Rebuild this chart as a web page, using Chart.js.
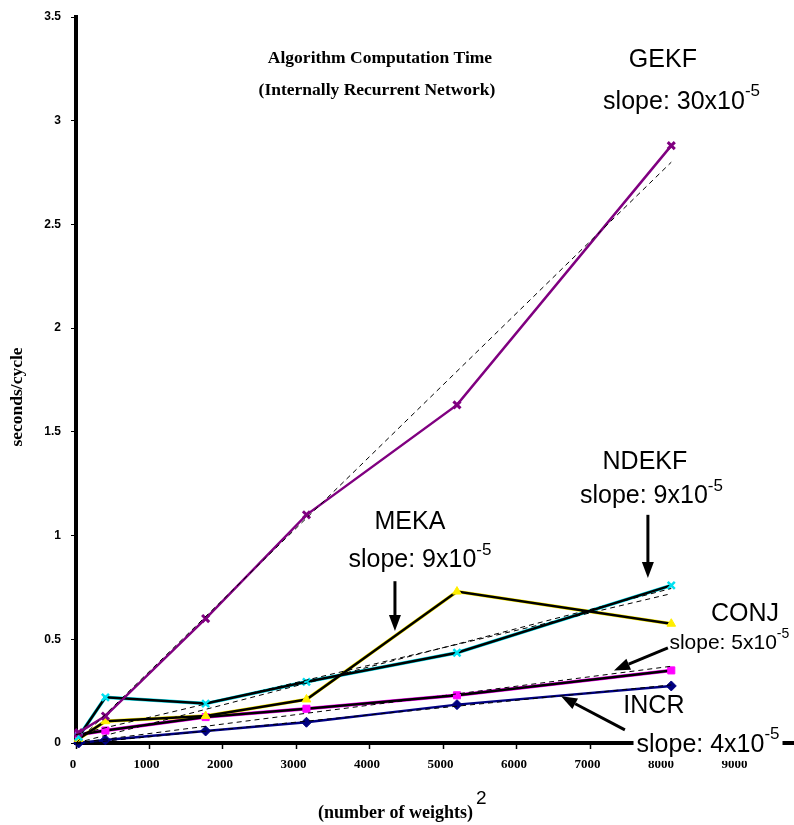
<!DOCTYPE html>
<html>
<head>
<meta charset="utf-8">
<script src="https://cdn.jsdelivr.net/npm/chart.js@4.4.1/dist/chart.umd.min.js"></script>
<style>
  html, body { margin: 0; padding: 0; background: #fff; }
  #wrap { width: 794px; height: 825px; }
</style>
</head>
<body>
<div id="wrap"><canvas id="myChart" width="794" height="825"></canvas></div>
<script>
// (number of weights)^2
var xWeights = [36, 400, 1764, 3136, 5184, 8100];
var xTicks = [0, 1000, 2000, 3000, 4000, 5000, 6000, 7000, 8000, 9000];

// seconds per cycle
var gekf  = [0.05, 0.13, 0.60, 1.10, 1.63, 2.88];
var ndekf = [0.03, 0.22, 0.19, 0.295, 0.435, 0.76];
var meka  = [0.02, 0.105, 0.13, 0.21, 0.73, 0.575];
var conj  = [0.04, 0.06, 0.125, 0.165, 0.23, 0.35];
var incr  = [0.00, 0.015, 0.058, 0.10, 0.185, 0.275];

// dashed linear fits (ends at x = 0 and x = 8100)
var fitX     = [0, 8100];
var gekfFit  = [0.0, 2.8];
var ndekfFit = [0.04, 0.72];
var mekaFit  = [0.0, 0.745];
var conjFit  = [0.0, 0.37];
var incrFit  = [-0.005, 0.28];

function pts(xs, ys) {
    return xs.map(function(x, i) { return { x: x, y: ys[i] }; });
}

function fitSet(ys) {
    return {
        data: pts(fitX, ys),
        borderColor: '#000',
        borderWidth: 1,
        borderDash: [5, 4],
        pointRadius: 0,
        order: 0
    };
}

var serif = '"Liberation Serif", "Times New Roman", serif';
var sans = '"Liberation Sans", Arial, sans-serif';

// labels, arrows and titles
var notes = {
    id: 'notes',
    afterDraw: function(chart) {
        var ctx = chart.ctx;
        var xs = chart.scales.x, ys = chart.scales.y;
        var px = function(v) { return xs.getPixelForValue(v); };
        var py = function(v) { return ys.getPixelForValue(v); };

        ctx.save();
        ctx.fillStyle = '#000';
        ctx.textBaseline = 'middle';
        ctx.textAlign = 'center';

        ctx.font = 'bold 17.5px ' + serif;
        ctx.fillText('Algorithm Computation Time', 380, 58);
        ctx.fillText('(Internally Recurrent Network)', 377, 90);

        // y title
        ctx.save();
        ctx.translate(17, 397);
        ctx.rotate(-Math.PI / 2);
        ctx.font = 'bold 17.5px ' + serif;
        ctx.fillText('seconds/cycle', 0, 0);
        ctx.restore();

        // x title
        ctx.font = 'bold 18px ' + serif;
        var t = '(number of weights)';
        var tw = ctx.measureText(t).width;
        ctx.textAlign = 'left';
        ctx.fillText(t, 318, 813);
        ctx.font = '19px ' + sans;
        ctx.fillText('2', 318 + tw + 3, 799);
        ctx.textAlign = 'center';

        function label(txt, x, y, size) {
            ctx.font = size + 'px ' + sans;
            ctx.textAlign = 'center';
            ctx.fillText(txt, px(x), py(y));
        }

        function slope(txt, x, y, size, white) {
            var ss = Math.round(size * 0.68);
            ctx.font = size + 'px ' + sans;
            var w1 = ctx.measureText(txt).width;
            ctx.font = ss + 'px ' + sans;
            var w2 = ctx.measureText('-5').width;
            var x0 = px(x) - (w1 + w2) / 2, yc = py(y);
            if (white) {
                ctx.fillStyle = '#fff';
                ctx.fillRect(x0 - 3, yc - size * 0.75, w1 + w2 + 6, size * 1.4);
                ctx.fillStyle = '#000';
            }
            ctx.textAlign = 'left';
            ctx.font = size + 'px ' + sans;
            ctx.fillText(txt, x0, yc);
            ctx.font = ss + 'px ' + sans;
            ctx.fillText('-5', x0 + w1, yc - size * 0.42);
            ctx.textAlign = 'center';
        }

        function arrow(x1, y1, x2, y2) {
            var ax = px(x1), ay = py(y1), bx = px(x2), by = py(y2);
            var a = Math.atan2(by - ay, bx - ax);
            var len = 16, half = 6;
            var cx = bx - len * Math.cos(a), cy = by - len * Math.sin(a);
            ctx.strokeStyle = '#000';
            ctx.lineWidth = 3;
            ctx.beginPath();
            ctx.moveTo(ax, ay);
            ctx.lineTo(cx, cy);
            ctx.stroke();
            ctx.beginPath();
            ctx.moveTo(bx, by);
            ctx.lineTo(cx + half * Math.sin(a), cy - half * Math.cos(a));
            ctx.lineTo(cx - half * Math.sin(a), cy + half * Math.cos(a));
            ctx.closePath();
            ctx.fill();
        }

        label('GEKF', 7986, 3.29, 25);
        slope('slope: 30x10', 8240, 3.09, 25);

        label('MEKA', 4544, 1.063, 25);
        slope('slope: 9x10', 4680, 0.88, 25);
        arrow(4340, 0.78, 4340, 0.54);

        label('NDEKF', 7741, 1.353, 25);
        slope('slope: 9x10', 7830, 1.188, 25);
        arrow(7782, 1.10, 7782, 0.795);

        label('CONJ', 9102, 0.623, 25);
        slope('slope: 5x10', 8890, 0.483, 21);
        arrow(8054, 0.459, 7320, 0.35);

        label('INCR', 7864, 0.179, 25);
        slope('slope: 4x10', 8600, -0.008, 25, true);
        arrow(7469, 0.063, 6600, 0.225);

        ctx.restore();
    }
};

var myChart = document.getElementById('myChart').getContext('2d');

new Chart(myChart, {
    type: 'line',
    data: {
        datasets: [
            fitSet(gekfFit),
            fitSet(ndekfFit),
            fitSet(mekaFit),
            fitSet(conjFit),
            fitSet(incrFit),
            {
                label: 'GEKF',
                data: pts(xWeights, gekf),
                borderColor: '#800080',
                borderWidth: 2.5,
                pointStyle: 'crossRot',
                pointRadius: 5,
                pointBorderWidth: 3,
                pointBorderColor: '#800080',
                order: 1
            },
            {
                label: 'NDEKF',
                data: pts(xWeights, ndekf),
                borderColor: '#000',
                borderWidth: 2.5,
                pointStyle: 'crossRot',
                pointRadius: 5,
                pointBorderWidth: 2.5,
                pointBorderColor: '#00e0f0',
                order: 1
            },
            {
                label: 'MEKA',
                data: pts(xWeights, meka),
                borderColor: '#000',
                borderWidth: 2.5,
                pointStyle: 'triangle',
                pointRadius: 5,
                pointBorderWidth: 1,
                pointBorderColor: '#ffee00',
                pointBackgroundColor: '#ffee00',
                order: 1
            },
            {
                label: 'CONJ',
                data: pts(xWeights, conj),
                borderColor: '#000',
                borderWidth: 2.5,
                pointStyle: 'rect',
                pointRadius: 5,
                pointBorderWidth: 1,
                pointBorderColor: '#ff00ff',
                pointBackgroundColor: '#ff00ff',
                order: 1
            },
            {
                label: 'INCR',
                data: pts(xWeights, incr),
                borderColor: '#000080',
                borderWidth: 2.5,
                pointStyle: 'rectRot',
                pointRadius: 5,
                pointBorderWidth: 1,
                pointBorderColor: '#000080',
                pointBackgroundColor: '#000080',
                order: 1
            },
            // coloured edges under the black lines
            { data: pts(xWeights, ndekf), borderColor: '#00e0f0', borderWidth: 3.5, pointRadius: 0, order: 2 },
            { data: pts(xWeights, meka),  borderColor: '#ffee00', borderWidth: 3.5, pointRadius: 0, order: 2 },
            { data: pts(xWeights, conj),  borderColor: '#ff00ff', borderWidth: 3.5, pointRadius: 0, order: 2 }
        ]
    },
    options: {
        responsive: false,
        animation: false,
        clip: false,
        layout: { autoPadding: false, padding: { top: 17, right: 0, left: 0, bottom: 0 } },
        plugins: {
            legend: { display: false },
            tooltip: { enabled: false },
            title: { display: false }
        },
        scales: {
            x: {
                type: 'linear',
                min: 0,
                max: 9770,
                afterBuildTicks: function(axis) {
                    axis.ticks = xTicks.map(function(v) { return { value: v }; });
                },
                afterFit: function(s) { s.height = 82; s.paddingLeft = 0; s.paddingRight = 0; },
                ticks: {
                    color: '#000',
                    font: { family: serif, size: 13, weight: 'bold' },
                    padding: 8,
                    labelOffset: -3,
                    maxRotation: 0,
                    callback: function(v) { return String(v); }
                },
                grid: { drawOnChartArea: false, drawTicks: true, tickLength: 6, color: '#000', tickWidth: 1.5 },
                border: { color: '#000', width: 4 }
            },
            y: {
                min: 0,
                max: 3.5,
                afterFit: function(s) { s.width = 76; s.paddingTop = 0; s.paddingBottom = 0; },
                ticks: {
                    stepSize: 0.5,
                    color: '#000',
                    font: { family: sans, size: 12, weight: 'bold' },
                    padding: 10,
                    callback: function(v) { return String(v); }
                },
                grid: { drawOnChartArea: false, drawTicks: true, tickLength: 5, color: '#000', tickWidth: 1 },
                border: { color: '#000', width: 4 }
            }
        }
    },
    plugins: [notes]
});
</script>
</body>
</html>
